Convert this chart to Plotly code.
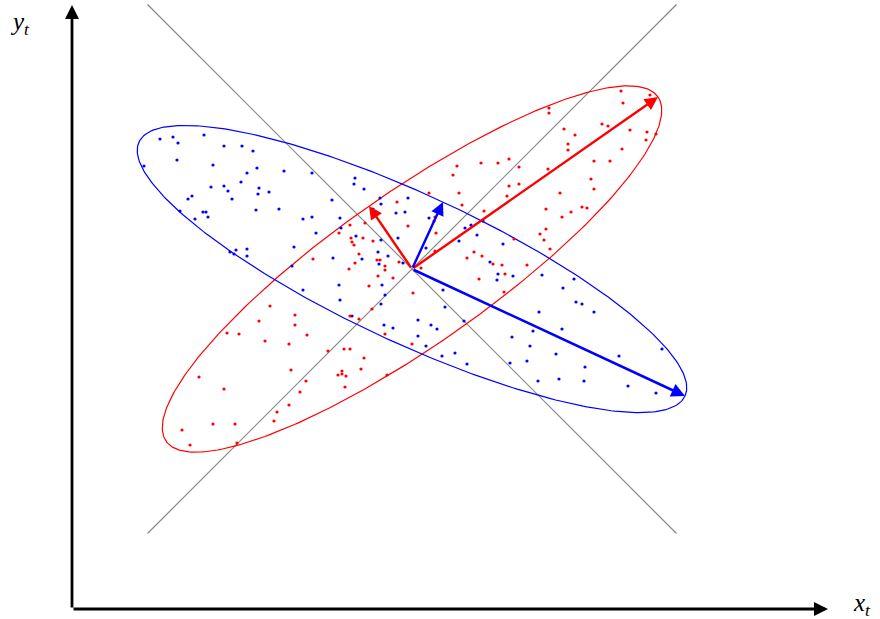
import numpy as np
import plotly.graph_objects as go

# ---------------- data (centred units) ----------------
blue_x = [-2.52, -2.39, -2.34, -2.08, -1.88, -1.70, -1.59, -2.68, -2.35, -1.99, -1.55, -1.65, -1.28,
          -2.01, -1.88, -1.84, -1.71, -1.53, -1.54, -1.43, -2.24, -2.20, -1.80, -2.32, -2.09, -2.06,
          -2.17, -2.04, -1.56, -1.33, -1.09, -1.82, -1.78, -1.76, -1.65, -1.65, -1.18, -1.20, -1.09,
          -1.00, -0.57, -0.58, -0.48, -0.80, -0.32, -0.31, -0.04, -0.39, -0.16, -0.07, -1.00, -0.72,
          -0.96, -0.71, -0.56, -0.31, -0.14, 0.17, 0.14, -0.34, -0.24, -0.79, -0.50, -0.33, -0.09,
          -0.73, -0.30, -0.27, -0.72, -0.31, -0.60, 0.31, 0.33, 0.06, 0.19, -0.28, -0.19, 0.25, 0.52,
          0.53, 0.59, 0.65, 0.47, 0.71, 0.06, 0.14, 0.30, 0.43, 0.55, 1.00, 1.18, 0.98, 1.15, 1.44,
          1.73, 2.07, 2.50, 1.26, 1.47, 1.72, 2.16, 2.44, 0.91, 0.78, 0.86, 0.85, 1.01, 1.30, 1.51,
          1.62, 1.64, 1.70, 1.82, 1.27, 1.21, 1.50]
blue_y = [1.30, 1.32, 1.26, 1.34, 1.23, 1.23, 1.18, 1.03, 1.09, 1.04, 1.01, 0.96, 0.98,
          0.82, 0.83, 0.78, 0.87, 0.81, 0.75, 0.77, 0.70, 0.73, 0.70, 0.58, 0.57, 0.57,
          0.50, 0.52, 0.59, 0.60, 0.50, 0.17, 0.15, 0.19, 0.20, 0.13, 0.22, 0.03, -0.21,
          0.96, 0.91, 0.85, 0.80, 0.69, 0.71, 0.65, 0.71, 0.60, 0.56, 0.57, 0.52, 0.51,
          0.36, 0.41, 0.33, 0.29, 0.31, 0.51, 0.21, 0.17, 0.13, 0.11, 0.10, 0.05, 0.06,
          -0.16, -0.16, -0.26, -0.31, -0.35, -0.47, -0.21, -0.38, -0.51, -0.56, -0.56, -0.59, -0.60, -0.52,
          0.41, 0.44, 0.34, 0.28, 0.48, -0.67, -0.77, -0.87, -0.84, -0.95, -0.68, -0.77, -0.94, -0.92, -0.85,
          -0.98, -0.87, -0.80, -1.12, -1.10, -1.12, -1.17, -1.24, 0.25, 0.07, -0.05, -0.11, -0.07, -0.06, -0.19,
          -0.10, -0.33, -0.35, -0.43, -0.43, -0.62, -0.60]

red_x = [2.09, 2.11, 2.38, 1.37, 1.37, 1.52, 1.63, 1.90, 1.96, 2.18, 2.35, 2.34, 2.44, 1.56, 1.56,
         2.10, 0.86, 0.97, 1.07, 1.82, 1.98, 1.36, 0.97, 1.07, 1.79, 1.82, 0.95, 1.48, 1.34, 1.59,
         1.70, 1.75, 1.50, 1.34, 1.28, 1.32, 1.38, 1.02, 0.81, 0.90, 1.15, 0.93, 0.92, 0.45, 0.69,
         0.41, 0.47, 0.17, -0.15, 0.50, 0.72, 0.23, 0.22, -0.62, -0.47, -0.73, -0.04, 0.24, -0.61,
         -0.49, -0.39, -0.60, -0.58, -0.53, -0.35, -0.32, -0.57, -0.27, -0.27, -0.13, -0.63, 0.23,
         0.09, 0.62, 0.70, 0.55, -0.34, -0.19, 0.67, -0.43, 0.01, -0.40, -0.99, -0.62, -0.53, -0.27,
         -1.42, -1.17, -1.53, -1.17, -1.85, -1.73, -1.05, -1.47, -1.23, -1.21, -2.13, -1.88, -1.06,
         -1.12, -1.23, -1.35, -1.38, -2.30, -1.99, -1.77, -2.22, -1.75, -0.84, -0.68, -0.62, -0.48,
         -0.51, -0.70, -0.74, -0.70, -0.66, -0.67, 0.00, -0.25]
red_y = [1.78, 1.66, 1.74, 1.61, 1.56, 1.40, 1.34, 1.45, 1.43, 1.39, 1.37, 1.29, 1.35, 1.25, 1.19,
         1.20, 1.06, 1.10, 1.02, 1.08, 1.08, 1.00, 0.83, 0.85, 0.90, 0.80, 0.73, 0.76, 0.60, 0.57,
         0.62, 0.61, 0.52, 0.40, 0.35, 0.29, 0.20, 0.30, 0.05, 0.04, 0.04, -0.05, -0.23, 1.03, 1.06,
         0.94, 0.76, 0.76, 0.67, 0.64, 0.58, 0.52, 0.48, 0.44, 0.46, 0.36, 0.43, 0.36, 0.31,
         0.31, 0.28, 0.27, 0.24, 0.15, 0.09, 0.09, 0.06, 0.03, -0.01, 0.07, 0.00, 0.18,
         0.01, 0.17, 0.13, 0.11, -0.07, -0.09, -0.10, -0.17, -0.24, -0.40, 0.10, -0.47, -0.50, -0.65,
         -0.37, -0.46, -0.52, -0.56, -0.64, -0.65, -0.66, -0.72, -0.75, -1.01, -1.08, -1.20, -1.12,
         -1.23, -1.36, -1.43, -1.52, -1.61, -1.55, -1.55, -1.76, -1.74, -0.82, -0.80, -0.80, -0.89,
         -1.00, -1.02, -1.06, -1.05, -1.07, -1.18, -0.75, -1.06]

center = [0.0, 0.0]
# principal axes (semi-axis vectors) of each cloud
red_major = [2.46, 1.72]
red_minor = [-0.43, 0.63]
blue_major = [2.73, -1.27]
blue_minor = [0.31, 0.67]

# reference diagonals and coordinate axes
diag_lo, diag_hi = -2.645, 2.645
axis_origin = [-3.40, -3.40]
x_axis_end = 4.16
y_axis_end = 2.64

RED = "#ff0000"
BLUE = "#0000ff"
SERIF = "Liberation Serif, DejaVu Serif, serif"

fig = go.Figure()

# gray diagonals
fig.add_trace(go.Scatter(x=[diag_lo, diag_hi], y=[diag_hi, diag_lo], mode="lines",
                         line=dict(color="#888888", width=1.2), hoverinfo="skip"))
fig.add_trace(go.Scatter(x=[diag_lo, diag_hi], y=[diag_lo, diag_hi], mode="lines",
                         line=dict(color="#888888", width=1.2), hoverinfo="skip"))

# ellipses built from principal axes
t = np.linspace(0, 2 * np.pi, 361)
for maj, mnr, col in [(red_major, red_minor, RED), (blue_major, blue_minor, BLUE)]:
    ex = center[0] + np.cos(t) * maj[0] + np.sin(t) * mnr[0]
    ey = center[1] + np.cos(t) * maj[1] + np.sin(t) * mnr[1]
    fig.add_trace(go.Scatter(x=ex, y=ey, mode="lines", line=dict(color=col, width=1.2),
                             hoverinfo="skip"))

# points
fig.add_trace(go.Scatter(x=blue_x, y=blue_y, mode="markers",
                         marker=dict(color=BLUE, size=3.2, line=dict(width=0))))
fig.add_trace(go.Scatter(x=red_x, y=red_y, mode="markers",
                         marker=dict(color=RED, size=3.2, line=dict(width=0))))

annotations = []


def arrow(x0, y0, x1, y1, color, width, size=1.0):
    annotations.append(dict(x=x1, y=y1, ax=x0, ay=y0, xref="x", yref="y", axref="x", ayref="y",
                            text="", showarrow=True, arrowhead=2, arrowsize=size,
                            arrowwidth=width, arrowcolor=color, standoff=0, startstandoff=0))


arrow(center[0], center[1], center[0] + red_major[0], center[1] + red_major[1], RED, 2.4, 1.1)
arrow(center[0], center[1], center[0] + red_minor[0], center[1] + red_minor[1], RED, 2.4, 1.1)
arrow(center[0], center[1], center[0] + blue_major[0], center[1] + blue_major[1], BLUE, 2.6, 1.05)
arrow(center[0], center[1], center[0] + blue_minor[0], center[1] + blue_minor[1], BLUE, 2.4, 1.1)

# coordinate axes
arrow(axis_origin[0], axis_origin[1], x_axis_end, axis_origin[1], "black", 2.8)
arrow(axis_origin[0], axis_origin[1], axis_origin[0], y_axis_end, "black", 2.8)

annotations.append(dict(x=4.50, y=-3.35, xref="x", yref="y", showarrow=False,
                        text="<i>x</i><sub><i>t</i></sub>",
                        font=dict(family=SERIF, size=25, color="black")))
annotations.append(dict(x=-3.92, y=2.46, xref="x", yref="y", showarrow=False,
                        text="<i>y</i><sub><i>t</i></sub>",
                        font=dict(family=SERIF, size=25, color="black")))

fig.update_layout(
    width=880, height=619,
    margin=dict(l=0, r=0, t=0, b=0),
    paper_bgcolor="white", plot_bgcolor="white",
    showlegend=False,
    font=dict(family=SERIF),
    xaxis=dict(range=[-4.12, 4.68], visible=False, showgrid=False, zeroline=False),
    yaxis=dict(range=[-3.50, 2.69], visible=False, showgrid=False, zeroline=False),
    annotations=annotations,
)

fig.write_html("out.html", config={"displayModeBar": False},
               post_script="document.body.style.margin='0px';document.body.style.padding='0px';")
